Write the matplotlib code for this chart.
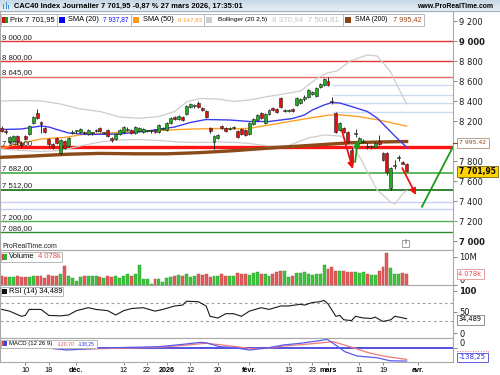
import matplotlib
matplotlib.use("Agg")
import matplotlib.pyplot as plt
import numpy as np
from matplotlib import font_manager
from matplotlib.colors import LinearSegmentedColormap
from matplotlib.patches import Rectangle

W, H = 500, 375
_names = {f.name for f in font_manager.fontManager.ttflist}
NARROW = 'Liberation Sans Narrow' in _names
FONT = 'Liberation Sans Narrow' if NARROW else 'Liberation Sans'

# daily candles, oldest first (index 0 ~ 10 nov. 2025, last = 27 mars 2026)
opens = [8135, 8105, 7990, 8000, 8050, 7980, 8050, 8070, 8180, 8280,
         8190, 8130, 8020, 7970, 8030, 7880, 8000, 7950, 8085, 8100,
         8090, 8085, 8070, 8080, 8100, 8130, 8080, 8110, 8030, 8020,
         8070, 8090, 8110, 8110, 8085, 8100, 8090, 8100, 8100, 8110,
         8090, 8125, 8110, 8180, 8240, 8220, 8240, 8270, 8340, 8350,
         8380, 8330, 8300, 8130, 7990, 8030, 8150, 8130, 8125, 8135,
         8100, 8120, 8110, 8070, 8170, 8210, 8280, 8180, 8270, 8330,
         8320, 8430, 8305, 8305, 8320, 8360, 8380, 8420, 8440, 8470,
         8450, 8540, 8560, 8600, 8395, 8280, 8110, 8130, 8090, 7910,
         8075, 7980, 7995, 7950, 7940, 7940, 8000, 7880, 7880, 7530,
         7755, 7830, 7790, 7770]
highs = [8150, 8120, 8050, 8065, 8060, 8000, 8060, 8160, 8250, 8320,
         8200, 8140, 8030, 7980, 8045, 8020, 8010, 8040, 8110, 8115,
         8130, 8100, 8120, 8095, 8120, 8140, 8095, 8120, 8040, 8080,
         8120, 8150, 8140, 8120, 8150, 8140, 8135, 8115, 8115, 8120,
         8170, 8145, 8190, 8240, 8250, 8260, 8250, 8360, 8380, 8370,
         8400, 8340, 8310, 8140, 8060, 8070, 8160, 8140, 8145, 8150,
         8110, 8130, 8120, 8190, 8230, 8270, 8290, 8280, 8320, 8340,
         8330, 8440, 8325, 8320, 8330, 8440, 8430, 8460, 8520, 8500,
         8540, 8580, 8630, 8640, 8440, 8290, 8190, 8140, 8100, 7930,
         8120, 8040, 8020, 7980, 7960, 7990, 8060, 7890, 7890, 7740,
         7810, 7860, 7800, 7780]
lows = [8095, 8075, 7975, 7990, 7960, 7935, 8010, 8060, 8170, 8220,
        8080, 8080, 7930, 7920, 7970, 7860, 7920, 7940, 8075, 8085,
        8080, 8070, 8060, 8065, 8090, 8090, 8070, 8040, 7995, 8010,
        8060, 8080, 8100, 8070, 8075, 8090, 8080, 8090, 8085, 8080,
        8085, 8115, 8100, 8170, 8210, 8210, 8200, 8260, 8330, 8330,
        8330, 8300, 8230, 8080, 7920, 8020, 8120, 8090, 8110, 8120,
        8030, 8060, 8050, 8060, 8160, 8200, 8220, 8170, 8260, 8300,
        8280, 8330, 8295, 8290, 8290, 8350, 8370, 8400, 8430, 8460,
        8440, 8530, 8550, 8550, 8370, 8080, 8100, 8080, 7980, 7780,
        8040, 7970, 7980, 7920, 7920, 7930, 7960, 7800, 7660, 7510,
        7720, 7800, 7770, 7695]
closes = [8105, 8090, 8040, 8050, 7990, 7965, 8020, 8150, 8240, 8230,
          8170, 8090, 7970, 7945, 7980, 8010, 7930, 8030, 8095, 8105,
          8120, 8080, 8110, 8085, 8105, 8100, 8085, 8050, 8010, 8070,
          8110, 8140, 8115, 8080, 8140, 8130, 8120, 8105, 8102, 8090,
          8160, 8130, 8180, 8230, 8220, 8250, 8210, 8350, 8370, 8355,
          8340, 8310, 8240, 8100, 8050, 8060, 8130, 8100, 8130, 8140,
          8040, 8070, 8060, 8180, 8220, 8260, 8230, 8270, 8310, 8310,
          8290, 8340, 8310, 8310, 8300, 8430, 8420, 8445, 8510, 8490,
          8530, 8570, 8620, 8560, 8390, 8090, 8180, 8090, 7990, 7790,
          8085, 8030, 8005, 7945, 7945, 7980, 7970, 7810, 7690, 7730,
          7765, 7840, 7775, 7701.95]
# volume, millions
volumes = [3.3, 2.7, 2.7, 2.7, 3.3, 2.7, 2.7, 2.7, 3.3, 3.3,
           3.2, 2.4, 3.6, 3.1, 3.3, 3.9, 6.8, 3.3, 2.6, 1.6,
           2.7, 3.3, 3.1, 3.2, 3.2, 2.7, 2.6, 3.1, 3.0, 3.2,
           2.4, 3.3, 3.8, 3.2, 3.9, 7.1, 2.1, 2.0, 0.4, 2.1,
           2.0, 1.0, 2.6, 3.0, 3.3, 3.5, 3.3, 3.9, 2.7, 3.3,
           3.9, 3.6, 3.9, 2.7, 3.3, 3.3, 3.9, 3.3, 3.3, 3.3,
           4.4, 3.9, 3.8, 3.6, 4.2, 4.5, 4.0, 3.8, 3.2, 3.9,
           4.8, 5.1, 5.0, 2.7, 3.3, 4.2, 4.2, 4.8, 3.9, 3.6,
           3.9, 3.9, 7.1, 5.7, 6.3, 5.0, 5.0, 5.1, 4.8, 4.8,
           4.5, 4.2, 4.5, 3.9, 3.6, 3.6, 5.1, 6.3, 11.4, 6.0,
           3.9, 3.9, 4.2, 4.078]

# indicator lines (x = day index)
sma20_x = [0, 5, 10, 12, 14, 17, 22, 30, 38, 44, 48, 52, 58, 63, 68, 74, 77,
           79, 82, 84, 86, 89, 93, 95.5, 98, 100.5, 103]
sma20_y = [8115, 8120, 8150, 8140, 8115, 8080, 8065, 8070, 8105, 8140, 8185,
           8215, 8210, 8195, 8195, 8225, 8260, 8310, 8360, 8385, 8380, 8345,
           8295, 8230, 8130, 8030, 7938]
sma50_x = [0, 4, 10, 16, 21, 27, 35, 40, 47, 54, 59, 63, 68, 73, 78, 83, 86,
           91, 96, 103]
sma50_y = [7928, 7970, 8020, 8035, 8068, 8080, 8098, 8105, 8118, 8125, 8120,
           8127, 8160, 8193, 8227, 8258, 8262, 8243, 8210, 8148]
sma200_x = [0, 8, 17, 25, 34, 42, 50, 59, 63, 72, 80, 89, 96, 103]
sma200_y = [7837, 7850, 7868, 7876, 7872, 7872, 7883, 7903, 7915, 7940, 7960,
            7983, 7990, 7995]
boll_up_x = [0, 5, 10, 15, 20, 25, 30, 35, 40, 44, 47, 50.5, 55, 59, 63, 67,
             71.6, 76, 80, 82.8, 85.3, 88.6, 93, 95.5, 98.8, 101.3, 103]
boll_up_y = [8400, 8405, 8400, 8370, 8320, 8295, 8240, 8227, 8245, 8295, 8390,
             8425, 8420, 8395, 8410, 8440, 8470, 8500, 8620, 8680, 8700, 8800,
             8860, 8850, 8700, 8500, 8371]
boll_lo_x = [0, 5, 10, 15, 20, 25, 30, 35, 40, 45, 50, 55, 60, 63, 68, 73, 78,
             82, 86, 88.6, 91.2, 95.5, 98.8, 100, 102, 103]
boll_lo_y = [7920, 7905, 7895, 7905, 7950, 7990, 8010, 8015, 8005, 7990, 7985,
             7990, 7985, 7975, 7950, 7955, 8030, 8060, 8050, 8000, 7830, 7510,
             7395, 7370, 7470, 7505]
rsi_x = [0, 2, 5, 6, 7, 10, 12, 15, 17, 19, 22, 24, 27, 29, 31, 33, 36, 39,
         41, 44, 46, 47, 50, 52, 53, 55, 57, 59, 61, 63, 66, 68, 71, 73, 76,
         77, 79, 81, 82, 83, 85, 86, 87, 89, 90, 92, 94, 95, 97, 99, 100, 103]
rsi_y = [56, 52, 40, 42, 56, 56, 42, 41, 43, 53, 60, 56, 53, 43, 53, 58, 60,
         52, 56, 64, 66, 75, 74, 64, 40, 36, 46, 46, 40, 52, 60, 56, 64, 64,
         68, 66, 72, 74, 77, 69, 40, 42, 32, 30, 40, 36, 35, 38, 28, 32, 40,
         34.489]
macd_x = [13, 16.5, 24, 25, 40, 47, 50.5, 52, 55.5, 59, 63, 67.5, 71.6, 76,
          80.2, 82.8, 84.3, 87.3, 90.4, 95.5, 98.8, 103]
macd_y = [-5, -21, -5, 0, 14, 43, 60, 55, 14, 5, -21, 0, 32, 50, 74, 92, 50,
          -39, -85, -103, -135, -138.25]
signal_x = [13, 16.5, 24, 40, 47, 50.5, 52, 55.5, 59, 63, 67.5, 71.6, 76,
            80.2, 84.3, 88.6, 93, 97, 103]
signal_y = [-5, -12, -8, 8, 30, 45, 50, 35, 18, -5, -5, 21, 35, 50, 67, 14,
            -46, -85, -120.7]

# drawn objects
red_levels = [9000, 8800, 8645]
main_level = 7940
green_levels = [7682, 7512, 7200, 7086]
blue_levels = [7393, 7317]
fib_levels = [8560, 8460, 8383, 8293]
fib_start = 84
red_arrows = [((86.5, 8110), (89.3, 7720)), ((101.9, 7730), (105.4, 7460))]
green_arrow = ((89.9, 7790), (90.6, 8010))
green_trend = ([106.9, 114.8], [7343, 7943])

# 8 000 sits under the 7 995,42 value box, so it is not labelled
price_ticks = [9200, 9000, 8800, 8600, 8400, 8200, 7800, 7600, 7400,
               7200, 7000]
tick_pos = [6, 12, 19, 31, 37, 42, 48, 55, 63, 73, 79, 83, 91, 97, 106]
tick_lab = ["10", "18", "déc.", "12", "22", "2026", "12", "20", "févr.",
            "13", "23", "mars", "11", "19", "avr."]

fig = plt.figure(figsize=(W / 100, H / 100), dpi=100)
XL = (-0.43, 114.8)
IDX = np.arange(len(opens))


def fmt_price(v):
    return f"{v:,.0f}".replace(",", " ")


def panel(y0, y1):
    ax = fig.add_axes([0, 1 - y1 / H, 453 / W, (y1 - y0) / H])
    ax.set_xlim(*XL)
    ax.yaxis.tick_right()
    ax.tick_params(axis='y', direction='out', length=3, width=0.6, pad=1.5,
                   labelsize=6.0, color='#777777', labelcolor='#1a1a1a')
    ax.tick_params(axis='x', bottom=False, labelbottom=False)
    for sp in ax.spines.values():
        sp.set_color('#a9a9a9')
        sp.set_linewidth(0.8)
    return ax


ax_p = panel(11, 250)
ax_v = panel(250, 285)
ax_r = panel(285, 338)
ax_m = panel(338, 362)

# price panel
ax_p.set_ylim(6910, 9300)
ax_p.set_yticks(price_ticks, labels=[fmt_price(v) for v in price_ticks])
for lab in ax_p.get_yticklabels():
    if lab.get_text() in ('9 000', '7 000'):
        lab.set_fontweight('bold')

LS = 6.8 if NARROW else 5.6


def level_label(lv):
    s = f"{lv:,.2f}".replace(",", " ").replace(".", ",")
    ax_p.annotate(s, xy=(XL[0], lv), xytext=(1.5, 1.7),
                  textcoords='offset points', ha='left', va='baseline',
                  fontsize=LS, family=FONT, color='#222222', zorder=6)


for lv, col in zip(red_levels, ['#e23434', '#e23434', '#e86a6a']):
    ax_p.axhline(lv, color=col, lw=1.0, zorder=1)
    level_label(lv)
ax_p.axhline(main_level, color='#ff1414', lw=2.4, zorder=2)
level_label(main_level)
for lv, col, lw in zip(green_levels, ['#5cb85c', '#0f6e0f', '#4caf50', '#2e8b2e'],
                       [1.4, 1.2, 1.0, 1.0]):
    ax_p.axhline(lv, color=col, lw=lw, zorder=1)
    level_label(lv)
for lv in blue_levels:
    ax_p.axhline(lv, color='#c9d1f2', lw=1.0, zorder=1)
ax_p.hlines(fib_levels, fib_start, XL[1], color='#cfdaf3', lw=1.0, zorder=1)

ax_p.plot(boll_up_x, boll_up_y, color='#cdcdcd', lw=0.9, zorder=2)
ax_p.plot(boll_lo_x, boll_lo_y, color='#cdcdcd', lw=0.9, zorder=2)
ax_p.plot(sma200_x, sma200_y, color='#8b4a17', lw=2.4, zorder=3)
ax_p.plot(sma50_x, sma50_y, color='#ffa126', lw=1.0, zorder=3)
ax_p.plot(sma20_x, sma20_y, color='#3c3cf0', lw=1.0, zorder=3)

o, h, l, c = (np.array(a, float) for a in (opens, highs, lows, closes))
up = c >= o
ax_p.vlines(IDX, l, h, color='#111111', lw=0.6, zorder=4)
ax_p.bar(IDX, np.maximum(np.abs(c - o), 7), bottom=np.minimum(o, c),
         width=0.75, color=np.where(up, '#1fae1f', '#e01010'),
         edgecolor='#222222', linewidth=0.4, zorder=5)

for (x0, y0), (x1, y1) in red_arrows:
    ax_p.annotate('', xy=(x1, y1), xytext=(x0, y0), zorder=7,
                  arrowprops=dict(arrowstyle='-|>', color='#ee1111', lw=1.3,
                                  mutation_scale=9, shrinkA=0, shrinkB=0))
(gx0, gy0), (gx1, gy1) = green_arrow
ax_p.annotate('', xy=(gx1, gy1), xytext=(gx0, gy0), zorder=7,
              arrowprops=dict(arrowstyle='-|>', color='#1a9a1a', lw=1.3,
                              mutation_scale=9, shrinkA=0, shrinkB=0))
ax_p.plot(*green_trend, color='#1a9a1a', lw=1.3, zorder=7)

# volume panel
ax_v.set_ylim(0, 12.5)
ax_v.bar(IDX, volumes, width=0.75, color=np.where(up, '#3dc43d', '#e25b5b'),
         edgecolor=np.where(up, '#2a9a2a', '#c04040'), linewidth=0.3)
ax_v.set_yticks([0, 10], labels=['0', '10M'])
ax_v.get_yticklabels()[0].set_verticalalignment('bottom')

# RSI panel
ax_r.set_ylim(-10.5, 112.8)
for lv in (70, 30):
    ax_r.axhline(lv, color='#a0a0a0', lw=0.8, ls=(0, (2.5, 2.5)))
ax_r.plot(rsi_x, rsi_y, color='#1a1a1a', lw=0.8)
ax_r.set_yticks([0, 50, 100], labels=['0', '50', '100'])
ax_r.get_yticklabels()[2].set_fontweight('bold')

# MACD panel
ax_m.set_ylim(-148, 106)
ax_m.axhline(0, color='#3434d8', lw=1.2)
ax_m.plot(signal_x, signal_y, color='#f07a7a', lw=0.9)
ax_m.plot(macd_x, macd_y, color='#5a5af0', lw=0.9)
ax_m.set_yticks([0], labels=['0'])
ax_m.get_yticklabels()[0].set_verticalalignment('bottom')
ax_m.set_xticks(tick_pos, labels=tick_lab)
ax_m.tick_params(axis='x', bottom=True, labelbottom=True, direction='out',
                 length=2.5, width=0.6, pad=0.8, color='#777777',
                 labelsize=6.2 if NARROW else 5.2)
for lab in ax_m.get_xticklabels():
    lab.set_family(FONT)
    if not lab.get_text().isdigit() or lab.get_text() == '2026':
        lab.set_fontweight('bold')

# overlay in pixel coordinates for header, legends and value boxes
ax_o = fig.add_axes([0, 0, 1, 1])
cmap = LinearSegmentedColormap.from_list('hdr', ['#c8d8e6', '#e6eef5'])
ax_o.imshow(np.linspace(0, 1, 12).reshape(-1, 1), cmap=cmap, aspect='auto',
            extent=(0, W, 11, 0), zorder=1)
ax_o.set_xlim(0, W)
ax_o.set_ylim(H, 0)
ax_o.axis('off')
rend = fig.canvas.get_renderer()


def put(x, y, s, width=None, size=6, ha='left', weight='normal',
        color='black', family=None):
    t = ax_o.text(x, y, s, ha=ha, va='center', fontsize=size,
                  fontweight=weight, color=color, family=family or FONT,
                  zorder=11)
    if width:
        w = t.get_window_extent(renderer=rend).width
        t.set_fontsize(size * width / w)
    return t


def box(x0, y0, x1, y1, fc='white', ec='#b8b8b8', lw=0.7, ls='-', z=9):
    ax_o.add_patch(Rectangle((x0, y0), x1 - x0, y1 - y0, fc=fc, ec=ec,
                             lw=lw, ls=ls, zorder=z))


def square(x, y, cols, size=6):
    step = size / len(cols)
    for k, col in enumerate(cols):
        ax_o.add_patch(Rectangle((x + k * step, y), step, size, fc=col,
                                 ec='none', zorder=10))


ax_o.plot([0, W], [11, 11], color='#9fb0c0', lw=0.8, zorder=2)
for bx, by, bh in [(3, 3.5, 5.5), (5.5, 2, 7), (8, 4.5, 4.5)]:
    ax_o.add_patch(Rectangle((bx, by), 1.4, bh, fc='#3d8fe0', ec='none',
                             zorder=3))
put(14, 6, "CAC40 Index Journalier 7 701,95 -0,87 % 27 mars 2026, 17:35:01",
    width=232, weight='bold')
put(417, 6.5, "www.ProRealTime.com", width=76, weight='bold')

# legend row
ly0, ly1, lyc = 13.5, 25.5, 19.5
box(0.5, ly0, 57, ly1)
square(1.5, 16.5, ['#cc1111', '#14a014'])
put(10, lyc, "Prix 7 701,95", width=45)
box(57, ly0, 130.5, ly1)
square(59, 16.5, ['#0000ff'])
put(68, lyc, "SMA (20)", width=31)
put(103, lyc, "7 937,87", width=26, color='#1010ff')
box(130.5, ly0, 203.5, ly1)
square(133, 16.5, ['#ff9a1a'])
put(143, lyc, "SMA (50)", width=31)
put(178, lyc, "8 147,83", width=24, color='#ff9a1a')
box(203.5, ly0, 342.5, ly1)
square(206, 16.5, ['#cccccc'])
put(218, lyc, "Bollinger (20 2,5)", width=50)
put(272, lyc, "8 370,94  7 504,81", width=68, color='#c4c4c4')
box(342.5, ly0, 423.5, ly1)
square(345, 16.5, ['#8b4513'])
put(355, lyc, "SMA (200)", width=33)
put(393, lyc, "7 995,42", width=29, color='#9a4a1a')

# panel legends
put(2, 246.5, "ProRealTime.com", width=56, color='#222222')
box(402, 239.5, 409, 246.5, ec='#a0a0a0')
put(405.5, 243, "i", size=5, ha='center', weight='bold', color='#707070')
box(0.5, 252, 62, 261.5)
square(1.5, 254, ['#e04040', '#30b030'], size=5.5)
put(9, 256.8, "Volume", width=26)
put(37.5, 256.8, "4 078k", width=23, color='#e05050')
box(0.5, 287, 63, 296)
square(1.5, 288.8, ['#111111'], size=5.5)
put(9, 291.5, "RSI (14) 34,489", width=53)
box(0.5, 339.5, 97, 347.5)
square(1.5, 340.8, ['#e04040', '#4040e0'], size=5.5)
put(9, 343.5, "MACD (12 26 9)", width=44)
put(57, 343.5, "-120,70", width=18, color='#e05050')
put(78, 343.5, "-138,25", width=17, color='#3030e0')

# value boxes on the right scale
ax_o.plot([453, 456.5], [142.5, 142.5], color='#8b4513', lw=0.8, zorder=10)
box(457, 137.5, 488.5, 147.5, ec='#b8a08a')
put(459, 142.5, "7 995,42", width=27, color='#8b4513', family='DejaVu Sans')
box(457, 166, 497.5, 177, fc='#ffd400', ec='#8a7a20')
put(459, 171.5, "7 701,95", width=37, weight='bold', family='DejaVu Sans')
box(457, 268.5, 483.5, 279, ec='#e8a0a0')
put(458.5, 273.8, "4 078k", width=23, color='#e05050', family='DejaVu Sans')
box(457, 314.5, 483.5, 324.5, ec='#909090')
put(458.5, 319.5, "34,489", width=23, family='DejaVu Sans')
box(457, 350.5, 487.5, 359, ec='#f07070', ls=':')
box(457, 352.5, 487.5, 361.5, ec='#6060e0')
put(458.5, 357, "-138,25", width=27, color='#3030e0', family='DejaVu Sans')

fig.savefig('out.png', dpi=100)
